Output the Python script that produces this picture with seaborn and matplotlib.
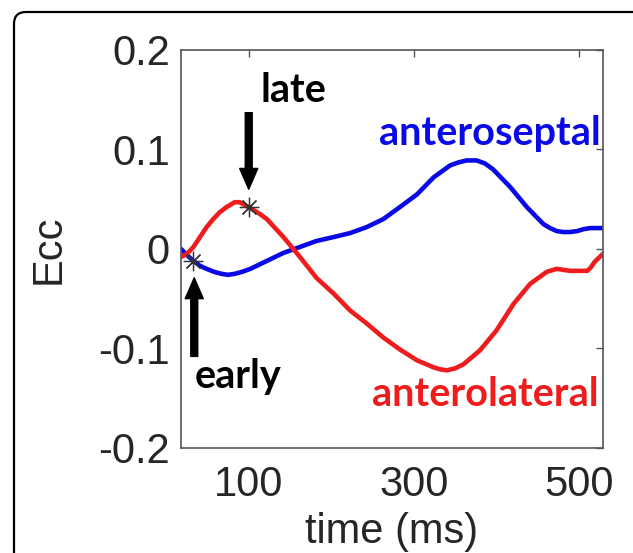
import numpy as np
import pandas as pd
import seaborn as sns
import matplotlib.pyplot as plt
from matplotlib.patches import FancyBboxPatch

# values (time in ms, Ecc)
septal_t = [18, 25, 33, 41, 49, 58, 67, 75, 83, 92, 102, 112, 122, 142, 162, 182, 203,
            223, 243, 263, 283, 304, 324, 344, 354, 364, 376, 386, 396, 417, 437, 457,
            465, 473, 481, 489, 498, 506, 514, 529]
septal_ecc = [0.0, -0.006, -0.012, -0.017, -0.020, -0.023, -0.025, -0.026, -0.025,
              -0.023, -0.020, -0.016, -0.012, -0.004, 0.002, 0.008, 0.012, 0.016, 0.022,
              0.030, 0.042, 0.055, 0.072, 0.084, 0.087, 0.089, 0.089, 0.086, 0.080,
              0.062, 0.042, 0.025, 0.021, 0.018, 0.017, 0.017, 0.018, 0.020, 0.021, 0.021]

lateral_t = [18, 25, 33, 41, 49, 57, 65, 73, 83, 89, 100, 112, 122, 142, 162, 182, 203,
             223, 243, 263, 283, 304, 324, 332, 340, 350, 360, 380, 400, 421, 441, 461,
             473, 481, 489, 510, 514, 519, 529]
lateral_ecc = [-0.008, -0.005, 0.002, 0.012, 0.022, 0.030, 0.037, 0.042, 0.047, 0.047,
               0.042, 0.036, 0.030, 0.012, -0.008, -0.029, -0.045, -0.062, -0.075,
               -0.089, -0.101, -0.112, -0.119, -0.121, -0.122, -0.120, -0.116, -0.102,
               -0.082, -0.055, -0.035, -0.023, -0.020, -0.021, -0.022, -0.022, -0.019,
               -0.013, -0.005]

early_pt = (33, -0.012)
late_pt = (100, 0.042)

x_ticks = [100, 300, 500]
y_ticks = [-0.2, -0.1, 0, 0.1, 0.2]
y_ticklabels = ["-0.2", "-0.1", "0", "0.1", "0.2"]

df = pd.concat([
    pd.DataFrame({"time": septal_t, "Ecc": septal_ecc, "region": "anteroseptal"}),
    pd.DataFrame({"time": lateral_t, "Ecc": lateral_ecc, "region": "anterolateral"}),
])

sns.set_style("white")
plt.rcParams["font.family"] = ["Liberation Sans", "DejaVu Sans"]

fig = plt.figure(figsize=(6.33, 5.53), dpi=100)
ax = fig.add_axes([0.286, 0.19, 0.6664, 0.7196])

sns.lineplot(data=df, x="time", y="Ecc", hue="region", sort=False,
             palette={"anteroseptal": "#0a0ae6", "anterolateral": "#ee1c1c"},
             linewidth=3.3, legend=False, ax=ax)

star = (8, 2, 0)
ax.plot(*early_pt, marker=star, ms=14, mec="#333333", mew=0.9, ls="none")
ax.plot(*late_pt, marker=star, ms=14, mec="#333333", mew=0.9, ls="none")

arrow = dict(width=5, headwidth=13, headlength=15, color="black")
ax.annotate("", xy=(100, 0.060), xytext=(100, 0.137), arrowprops=arrow)
ax.annotate("", xy=(34, -0.029), xytext=(34, -0.108), arrowprops=arrow)

ann = dict(family=["Lato", "DejaVu Sans"], fontweight="bold", fontsize=28.5)
ax.text(114, 0.1475, "late", ha="left", va="baseline", color="black", **ann)
ax.text(35, -0.1395, "early", ha="left", va="baseline", color="black", **ann)
ax.text(526, 0.104, "anteroseptal", ha="right", va="baseline", color="#0a0ae6", **ann)
ax.text(524, -0.158, "anterolateral", ha="right", va="baseline", color="#ee1c1c", **ann)

ax.set_xlim(18, 529)
ax.set_ylim(-0.2, 0.2)
ax.set_xticks(x_ticks)
ax.set_yticks(y_ticks)
ax.set_yticklabels(y_ticklabels)
ax.tick_params(direction="in", length=5, width=1, color="#555555",
               top=True, right=True, labelsize=30)
ax.tick_params(axis="x", pad=12)
ax.tick_params(axis="y", pad=8)
ax.set_xlabel("time (ms)", fontsize=30, labelpad=5)
ax.set_ylabel("Ecc", fontsize=30, labelpad=21)
for s in ax.spines.values():
    s.set_color("#555555")
    s.set_linewidth(1.2)

# rounded frame around the panel
frame = FancyBboxPatch((0.14, -0.5), 6.6, 5.41 + 0.5,
                       boxstyle="round,pad=0,rounding_size=0.12",
                       transform=fig.dpi_scale_trans, fill=False,
                       ec="black", lw=1.6)
fig.patches.append(frame)

fig.savefig("out.png", dpi=100)
